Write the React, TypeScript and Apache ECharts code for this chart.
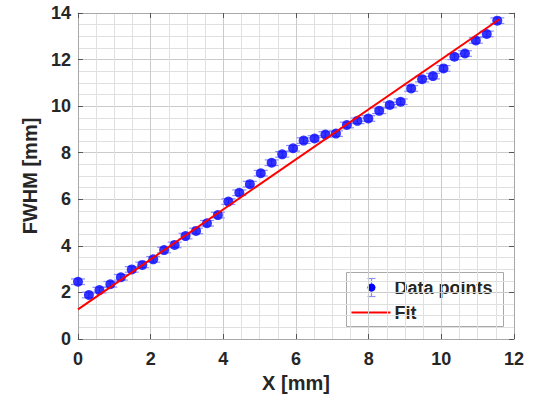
import React, { useEffect, useRef } from 'react';
import * as echarts from 'echarts';

const xValues = [0.00, 0.30, 0.59, 0.89, 1.18, 1.48, 1.77, 2.07, 2.37, 2.66, 2.96, 3.25, 3.55, 3.85, 4.14, 4.44, 4.73, 5.03, 5.33, 5.62, 5.92, 6.21, 6.51, 6.81, 7.10, 7.40, 7.69, 7.99, 8.29, 8.58, 8.88, 9.17, 9.47, 9.77, 10.06, 10.36, 10.65, 10.95, 11.25, 11.54];
const yValues = [2.46, 1.89, 2.10, 2.35, 2.65, 2.99, 3.18, 3.42, 3.82, 4.04, 4.42, 4.64, 4.97, 5.32, 5.90, 6.28, 6.65, 7.12, 7.57, 7.93, 8.19, 8.52, 8.61, 8.78, 8.82, 9.19, 9.37, 9.47, 9.80, 10.05, 10.19, 10.76, 11.16, 11.29, 11.62, 12.12, 12.26, 12.82, 13.10, 13.67];
const yErrors = [0.12, 0.12, 0.12, 0.12, 0.12, 0.12, 0.12, 0.12, 0.12, 0.12, 0.12, 0.12, 0.12, 0.12, 0.12, 0.12, 0.12, 0.12, 0.12, 0.12, 0.12, 0.12, 0.12, 0.12, 0.12, 0.12, 0.12, 0.12, 0.12, 0.12, 0.12, 0.12, 0.12, 0.12, 0.12, 0.12, 0.12, 0.12, 0.12, 0.12];
const fitX = [0, 11.6];
const fitY = [1.27, 13.73];

const xTitle = 'X [mm]';
const yTitle = 'FWHM [mm]';
const legendNames = ['Data points', 'Fit'];

const FONT = 'Liberation Sans, Arial, sans-serif';
const TEXT = '#262626';
const AXIS = '#a8a8a8';
const ERR = '#8c8cff';

export default function App() {
  const ref = useRef<HTMLDivElement>(null);
  useEffect(() => {
    const chart = echarts.init(ref.current!, null, { renderer: 'svg' });
    const points = xValues.map((x, i) => [x, yValues[i]]);
    const errData = xValues.map((x, i) => [x, yValues[i], yErrors[i]]);
    const fitData = fitX.map((x, i) => [x, fitY[i]]);

    const baseAxis = {
      type: 'value' as const,
      axisLine: { show: true, onZero: false, lineStyle: { color: AXIS, width: 1 } },
      axisTick: { show: true, inside: true, length: 5, lineStyle: { color: '#555' } },
      minorTick: { show: false, splitNumber: 4 },
    };

    chart.setOption({
      animation: false,
      grid: { left: 78, right: 30, top: 13, bottom: 70, containLabel: false },
      xAxis: [
        {
          ...baseAxis,
          position: 'bottom',
          min: 0, max: 12, interval: 2,
          name: xTitle, nameLocation: 'middle', nameGap: 33,
          nameTextStyle: { fontFamily: FONT, fontWeight: 'bold', fontSize: 20, color: TEXT },
          axisLabel: { fontFamily: FONT, fontWeight: 'bold', fontSize: 18, color: TEXT, margin: 11 },
          splitLine: { show: true, lineStyle: { color: '#cbcbcb', width: 1 } },
          minorSplitLine: { show: true, lineStyle: { color: '#e0e0e0', width: 1 } },
        },
        {
          ...baseAxis,
          position: 'top',
          min: 0, max: 12, interval: 2,
          axisLabel: { show: false },
          splitLine: { show: false },
        },
      ],
      yAxis: [
        {
          ...baseAxis,
          position: 'left',
          min: 0, max: 14, interval: 2,
          name: yTitle, nameLocation: 'middle', nameGap: 34,
          nameTextStyle: { fontFamily: FONT, fontWeight: 'bold', fontSize: 20, color: TEXT },
          axisLabel: { fontFamily: FONT, fontWeight: 'bold', fontSize: 18, color: TEXT, margin: 7 },
          splitLine: { show: true, lineStyle: { color: '#cbcbcb', width: 1 } },
          minorSplitLine: { show: true, lineStyle: { color: '#e0e0e0', width: 1 } },
        },
        {
          ...baseAxis,
          position: 'right',
          min: 0, max: 14, interval: 2,
          axisLabel: { show: false },
          splitLine: { show: false },
        },
      ],
      series: [
        {
          type: 'custom',
          name: 'errors',
          xAxisIndex: 0, yAxisIndex: 0,
          data: errData,
          encode: { x: 0, y: 1 },
          z: 2,
          renderItem: (params: any, api: any) => {
            const x = api.value(0), y = api.value(1), e = api.value(2);
            const hi = api.coord([x, y + e]);
            const lo = api.coord([x, y - e]);
            const w = 7;
            const style = { stroke: ERR, lineWidth: 1.2 };
            return {
              type: 'group',
              children: [
                { type: 'line', shape: { x1: hi[0], y1: hi[1], x2: lo[0], y2: lo[1] }, style },
                { type: 'line', shape: { x1: hi[0] - w, y1: hi[1], x2: hi[0] + w, y2: hi[1] }, style },
                { type: 'line', shape: { x1: lo[0] - w, y1: lo[1], x2: lo[0] + w, y2: lo[1] }, style },
              ],
            };
          },
        },
        {
          type: 'scatter',
          name: legendNames[0],
          xAxisIndex: 0, yAxisIndex: 0,
          data: points,
          symbol: 'circle',
          symbolSize: 10,
          itemStyle: { color: '#0000ff' },
          z: 3,
        },
        {
          type: 'line',
          name: legendNames[1],
          xAxisIndex: 0, yAxisIndex: 0,
          data: fitData,
          showSymbol: false,
          symbol: 'none',
          lineStyle: { color: '#ff0000', width: 2 },
          z: 4,
        },
      ],
      graphic: [
        {
          type: 'group',
          left: 346, top: 272,
          children: [
            { type: 'rect', shape: { x: 0, y: 0, width: 157, height: 54 }, style: { fill: '#ffffff', stroke: AXIS, lineWidth: 1 } },
            { type: 'line', shape: { x1: 25, y1: 6, x2: 25, y2: 24 }, style: { stroke: ERR, lineWidth: 1.2 } },
            { type: 'line', shape: { x1: 21, y1: 6, x2: 29, y2: 6 }, style: { stroke: ERR, lineWidth: 1.2 } },
            { type: 'line', shape: { x1: 21, y1: 24, x2: 29, y2: 24 }, style: { stroke: ERR, lineWidth: 1.2 } },
            { type: 'circle', shape: { cx: 25, cy: 15, r: 4 }, style: { fill: '#0000ff' } },
            { type: 'text', x: 48, y: 15, style: { text: legendNames[0], fontFamily: FONT, fontWeight: 'bold', fontSize: 18, fill: TEXT, verticalAlign: 'middle', align: 'left' } },
            { type: 'line', shape: { x1: 5, y1: 40, x2: 44, y2: 40 }, style: { stroke: '#ff0000', lineWidth: 2 } },
            { type: 'text', x: 48, y: 40, style: { text: legendNames[1], fontFamily: FONT, fontWeight: 'bold', fontSize: 18, fill: TEXT, verticalAlign: 'middle', align: 'left' } },
          ],
        },
      ],
    });
    return () => chart.dispose();
  }, []);
  return <div ref={ref} style={{ position: 'fixed', left: 0, top: 0, width: 544, height: 409, background: '#fff' }} />;
}
